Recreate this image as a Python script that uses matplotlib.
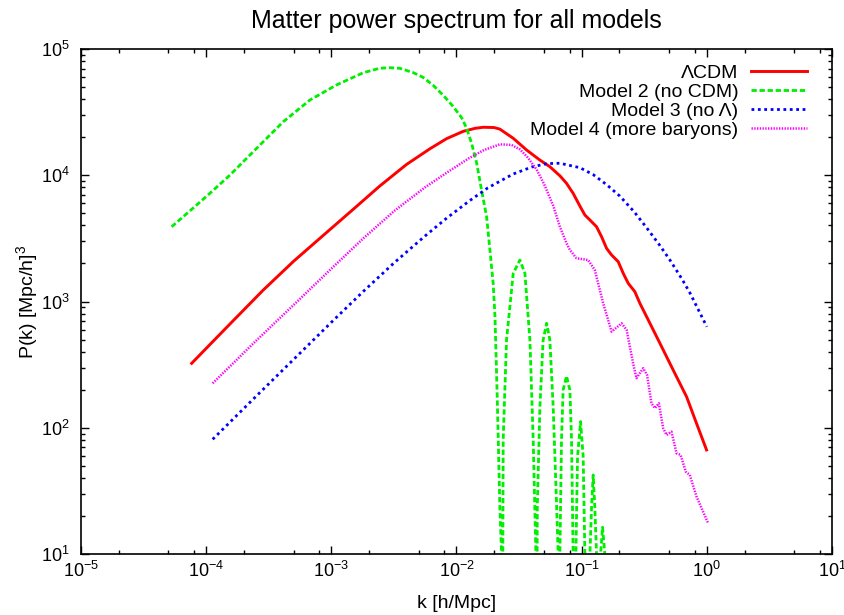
import numpy as np
import matplotlib
matplotlib.use("Agg")
import matplotlib.pyplot as plt
from matplotlib.ticker import LogLocator, LogFormatterMathtext, NullFormatter

plt.rcParams['font.family'] = ['Liberation Sans', 'DejaVu Sans']
plt.rcParams['mathtext.default'] = 'regular'
plt.rcParams['axes.unicode_minus'] = False

# values (k in h/Mpc, P in (Mpc/h)^3)
k_lcdm = [7.66e-5, 1.585e-4, 2.86e-4, 5.01e-4, 9.75e-4, 1.585e-3, 2.44e-3, 3.98e-3,
          6.14e-3, 8.34e-3, 0.01132, 0.01413, 0.01633, 0.01995, 0.0222, 0.0284,
          0.0363, 0.0463, 0.0557, 0.067, 0.0757, 0.0855, 0.0968, 0.1061, 0.1164,
          0.1315, 0.1442, 0.158, 0.1734, 0.196, 0.2148, 0.2355, 0.266, 0.2917,
          0.32, 0.351, 0.4217, 0.538, 0.689, 0.828, 0.995]
p_lcdm = [324, 679, 1233, 2089, 3715, 5650, 8222, 12160,
          16220, 19500, 22280, 23550, 23990, 23880, 23200, 19620,
          15850, 13200, 11690, 9900, 8630, 7190, 5700, 4840, 4420,
          3910, 3260, 2640, 2335, 2066, 1672, 1393, 1196, 968,
          807, 672, 467, 287, 176, 108, 66.7]

k_nocdm = [5.3e-5, 6.56e-5, 8.39e-5, 1.07e-4, 1.55e-4, 2.53e-4, 4.13e-4, 6.75e-4,
           1.1e-3, 1.8e-3, 2.44e-3, 2.94e-3, 3.53e-3, 4.51e-3, 5.42e-3, 6.52e-3,
           7.83e-3, 9.42e-3, 0.011, 0.01205, 0.0132, 0.0145, 0.01585, 0.0174,
           0.0185, 0.01963, 0.0203, 0.0212, 0.0222, 0.0229, 0.0232,
           0.0236, 0.0251, 0.0284, 0.0321, 0.0352, 0.0386, 0.0410, 0.0431, 0.0435,
           0.0442, 0.0464, 0.0492, 0.0525, 0.0557, 0.0592, 0.0631, 0.0649, 0.0659,
           0.0670, 0.0690, 0.0711, 0.0757, 0.0805, 0.0830, 0.0855, 0.0875,
           0.0899, 0.0927, 0.0980, 0.1028, 0.1061, 0.1110,
           0.1164, 0.1200, 0.1236, 0.1273, 0.1315, 0.1364,
           0.1416, 0.1469, 0.1532, 0.1560]
p_nocdm = [3910, 4700, 5810, 7190, 10040, 16340, 26550, 39450,
           51900, 64900, 70400, 71100, 70300, 65000, 59500, 51500,
           43000, 35000, 28500, 23550, 17900, 12440, 7640, 4700,
           2560, 1393, 758, 160, 23.7, 10, 0.3,
           80, 495, 1672, 2130, 1672, 495, 80, 10, 0.3,
           23.7, 147, 495, 672, 495, 147, 23.7, 10, 0.3,
           10, 80, 199, 257, 199, 80, 10, 0.3,
           10, 59, 112, 59, 10, 0.3,
           10, 23.7, 42.3, 23.7, 10, 0.3,
           10, 16.3, 10, 0.3]

k_nolambda = [1.127e-4, 2.512e-4, 5.28e-4, 1e-3, 1.8e-3, 3.162e-3, 5.62e-3, 8.34e-3,
              0.01259, 0.01778, 0.02838, 0.0398, 0.0525, 0.067, 0.0968, 0.1236,
              0.1585, 0.2018, 0.263, 0.33, 0.417, 0.506, 0.631, 0.731, 1.0]
p_nolambda = [81, 178, 367, 684, 1202, 2018, 3311, 4571,
              6237, 7943, 10230, 11610, 12360, 12450, 11480, 10120,
              8414, 6839, 5129, 3846, 2818, 2138, 1514, 1175, 631]

k_baryons = [1.127e-4, 2.512e-4, 5.28e-4, 1e-3, 1.8e-3, 3.162e-3, 5.62e-3, 8.34e-3,
             0.01259, 0.0166, 0.0222, 0.02754, 0.0321, 0.03715, 0.0437, 0.0501,
             0.0592, 0.067, 0.0757, 0.0805, 0.091, 0.1127, 0.1273,
             0.1486, 0.1734, 0.2085, 0.2286, 0.2576, 0.274, 0.31, 0.333, 0.361,
             0.385, 0.414, 0.448, 0.477, 0.522, 0.573, 0.617, 0.679, 0.731, 0.828, 1.02]
p_baryons = [225, 490, 989, 1820, 3162, 5188, 8035, 10470,
             13650, 15850, 17580, 17380, 16030, 13800, 11090, 8511,
             5754, 3908, 2890, 2560, 2200, 2130, 1778,
             968, 577, 672, 595, 324, 247, 296, 262, 156,
             143, 156, 99, 87.7, 93, 62.8, 60.9, 44.9, 42.3, 28.4, 17.7]

fig = plt.figure(figsize=(8.44, 6.15), dpi=100)
ax = fig.add_axes([81 / 844, 1 - 554 / 615, 751 / 844, 505 / 615])

ax.plot(k_lcdm, p_lcdm, color='#ff0000', lw=2.1, label='ΛCDM')
ax.plot(k_nocdm, p_nocdm, color='#00ee00', lw=2.0, dashes=(1.9, 1.0),
        label='Model 2 (no CDM)')
ax.plot(k_nolambda, p_nolambda, color='#0000ff', lw=2.0, dashes=(1.0, 1.3),
        label='Model 3 (no Λ)')
ax.plot(k_baryons, p_baryons, color='#ff00ff', lw=1.8, dashes=(0.55, 0.55),
        label='Model 4 (more baryons)')

ax.set_xscale('log')
ax.set_yscale('log')
ax.set_xlim(1e-5, 10)
ax.set_ylim(10, 1e5)

ax.xaxis.set_major_locator(LogLocator(base=10, numticks=20))
ax.xaxis.set_minor_locator(LogLocator(base=10, subs=(2, 5, 8), numticks=20))
ax.yaxis.set_major_locator(LogLocator(base=10, numticks=20))
ax.yaxis.set_minor_locator(LogLocator(base=10, subs=np.arange(2, 10), numticks=20))
ax.xaxis.set_major_formatter(LogFormatterMathtext())
ax.yaxis.set_major_formatter(LogFormatterMathtext())
ax.xaxis.set_minor_formatter(NullFormatter())
ax.yaxis.set_minor_formatter(NullFormatter())

ax.tick_params(which='both', direction='in', top=True, right=True, width=1.0,
               labelsize=13)
ax.tick_params(which='major', length=6)
ax.tick_params(which='minor', length=3)
ax.tick_params(axis='x', which='major', pad=5)
ax.tick_params(axis='y', which='major', pad=8)
for s in ax.spines.values():
    s.set_linewidth(1.2)

ax.set_title('Matter power spectrum for all models', fontsize=18, pad=15)
ax.set_xlabel('k [h/Mpc]', fontsize=14)
ax.set_ylabel('P(k) [Mpc/h]$^3$', fontsize=14)
ax.xaxis.set_label_coords(0.5, -0.081)
ax.yaxis.set_label_coords(-0.054, 0.5)

ax.legend(loc='upper right', bbox_to_anchor=(0.967, 0.970), frameon=False,
          markerfirst=False, fontsize=14, handlelength=2.9, handletextpad=0.65,
          labelspacing=0.08, borderpad=0, borderaxespad=0)

fig.savefig('out.png', dpi=100)
